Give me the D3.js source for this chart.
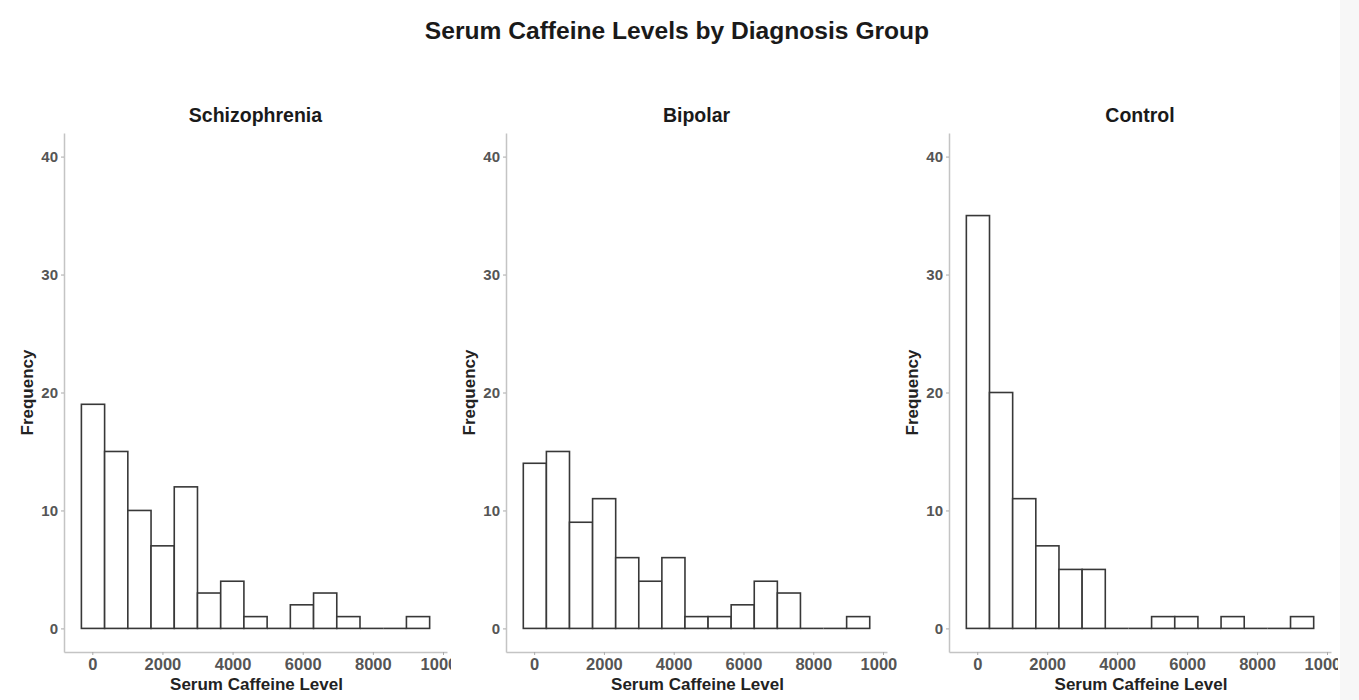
<!DOCTYPE html>
<html>
<head>
<meta charset="utf-8">
<script src="https://cdn.jsdelivr.net/npm/d3@7"></script>
<style>
  html, body { margin: 0; padding: 0; background: #ffffff; }
  svg { display: block; font-family: "Liberation Sans", Arial, Helvetica, sans-serif; }
</style>
</head>
<body>
<svg id="chart" width="1359" height="700"></svg>
<script>
// ---- data ----
const chartTitle = "Serum Caffeine Levels by Diagnosis Group";
const groups = ["Schizophrenia", "Bipolar", "Control"];
const binStart = -311;
const binWidth = 662;
const schizophreniaCounts = [19, 15, 10, 7, 12, 3, 4, 1, 0, 2, 3, 1, 0, 0, 1];
const bipolarCounts       = [14, 15, 9, 11, 6, 4, 6, 1, 1, 2, 4, 3, 0, 0, 1];
const controlCounts       = [35, 20, 11, 7, 5, 5, 0, 0, 1, 1, 0, 1, 0, 0, 1];
const groupCounts = [schizophreniaCounts, bipolarCounts, controlCounts];
const xTicks = [0, 2000, 4000, 6000, 8000, 10000];
const yTicks = [0, 10, 20, 30, 40];
const xLabel = "Serum Caffeine Level";
const yLabel = "Frequency";

// ---- layout ----
const axisLeft = [64, 506, 949];
const plotWidth = [383, 381, 382];
const clipRight = [451, 897, 1338];
const plotTop = 133, plotBottom = 652;

const svg = d3.select("#chart");
svg.append("rect").attr("x", 1340).attr("y", 0).attr("width", 19).attr("height", 700).attr("fill", "#f7f7f7");

svg.append("text")
  .attr("x", 677).attr("y", 30)
  .attr("text-anchor", "middle").attr("dominant-baseline", "central")
  .attr("font-size", 24.6).attr("font-weight", "bold").attr("fill", "#1a1a1a")
  .text(chartTitle);

const defs = svg.append("defs");

groups.forEach((g, i) => {
  const counts = groupCounts[i];
  const x0 = axisLeft[i];
  const x = d3.scaleLinear().domain([-807, 10114]).range([x0, x0 + plotWidth[i]]);
  const y = d3.scaleLinear().domain([-2, 42]).range([plotBottom, plotTop]);
  const panelLeft = i === 0 ? 0 : clipRight[i - 1];

  defs.append("clipPath").attr("id", "clip" + i)
    .append("rect").attr("x", panelLeft).attr("y", 0)
    .attr("width", clipRight[i] - panelLeft).attr("height", 700);

  const p = svg.append("g").attr("clip-path", `url(#clip${i})`);

  // panel title
  p.append("text")
    .attr("x", x0 + plotWidth[i] / 2).attr("y", 115)
    .attr("text-anchor", "middle").attr("dominant-baseline", "central")
    .attr("font-size", 19.5).attr("font-weight", "bold").attr("fill", "#1a1a1a")
    .text(g);

  // bars
  const bins = counts.map((c, k) => ({ x0: binStart + k * binWidth, x1: binStart + (k + 1) * binWidth, c }));
  p.selectAll("rect.bar").data(bins.filter(d => d.c > 0)).join("rect")
    .attr("class", "bar")
    .attr("x", d => x(d.x0)).attr("width", d => x(d.x1) - x(d.x0))
    .attr("y", d => y(d.c)).attr("height", d => y(0) - y(d.c))
    .attr("fill", "#ffffff").attr("stroke", "#383838").attr("stroke-width", 1.6);
  // zero-count bins drawn as flat outlines on the baseline
  p.selectAll("line.zero").data(bins.filter(d => d.c === 0)).join("line")
    .attr("class", "zero")
    .attr("x1", d => x(d.x0)).attr("x2", d => x(d.x1))
    .attr("y1", y(0)).attr("y2", y(0))
    .attr("stroke", "#383838").attr("stroke-width", 1.6);

  // y axis
  const ya = p.append("g").attr("transform", `translate(${x0},0)`)
    .call(d3.axisLeft(y).tickValues(yTicks).tickSize(3).tickPadding(3).tickSizeOuter(0));
  ya.select(".domain").attr("stroke", "#c4c4c4").attr("stroke-width", 1.5);
  ya.selectAll(".tick line").attr("stroke", "#aaaaaa");
  ya.selectAll(".tick text").attr("font-size", 15).attr("font-weight", "bold").attr("fill", "#555555")
    .attr("font-family", "Liberation Sans, Arial, sans-serif");

  // x axis
  const xa = p.append("g").attr("transform", `translate(0,${plotBottom})`)
    .call(d3.axisBottom(x).tickValues(xTicks).tickFormat(d3.format("d")).tickSize(3).tickPadding(3).tickSizeOuter(0));
  xa.select(".domain").attr("stroke", "#c4c4c4").attr("stroke-width", 1.5);
  xa.selectAll(".tick line").attr("stroke", "#aaaaaa");
  xa.selectAll(".tick text").attr("font-size", 16.5).attr("font-weight", "bold").attr("fill", "#555555")
    .attr("font-family", "Liberation Sans, Arial, sans-serif");

  // axis titles
  p.append("text")
    .attr("x", x0 + plotWidth[i] / 2 + 1).attr("y", 684)
    .attr("text-anchor", "middle").attr("dominant-baseline", "central")
    .attr("font-size", 17).attr("font-weight", "bold").attr("fill", "#222222")
    .text(xLabel);
  p.append("text")
    .attr("transform", `translate(${x0 - 37},${(plotTop + plotBottom) / 2}) rotate(-90)`)
    .attr("text-anchor", "middle").attr("dominant-baseline", "central")
    .attr("font-size", 17).attr("font-weight", "bold").attr("fill", "#222222")
    .text(yLabel);
});
</script>
</body>
</html>
